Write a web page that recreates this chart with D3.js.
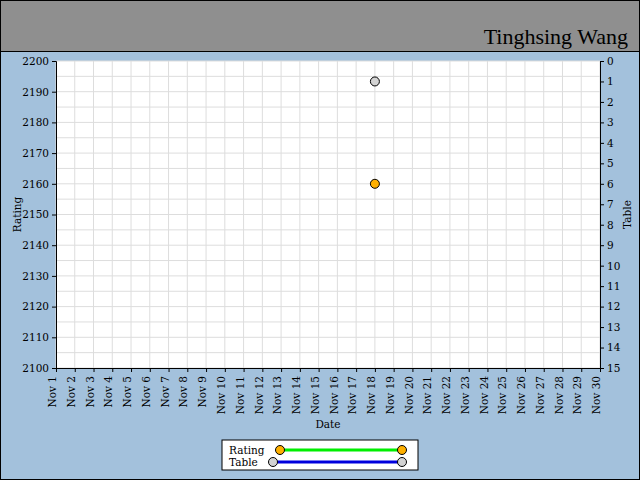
<!DOCTYPE html>
<html><head><meta charset="utf-8">
<script src="https://cdn.jsdelivr.net/npm/d3@7"></script>
<style>body{margin:0;background:#fff}text{font-family:"DejaVu Serif",serif;font-size:10.5px}</style>
</head><body>
<svg id="chart" width="640" height="480"></svg>
<script>
// Data
const days = d3.range(1, 31).map(d => 'Nov ' + d);
const ratingPoints = [{ day: 18, value: 2160 }];
const tablePoints = [{ day: 18, value: 1 }];
const ratingTicks = d3.range(2100, 2201, 10);
const tableTicks = d3.range(0, 16);

const svg = d3.select('#chart');
const margin = { top: 61, right: 40, bottom: 112, left: 56 };
const W = 640, H = 480;

svg.append('rect').attr('width', W).attr('height', H).attr('fill', '#a3c1dc');
svg.append('rect').attr('width', W).attr('height', 51).attr('fill', '#8f8f8f');
svg.append('line').attr('x1', 0).attr('x2', W).attr('y1', 51.5).attr('y2', 51.5).attr('stroke', '#000');
svg.append('text').attr('x', 628).attr('y', 44).attr('text-anchor', 'end')
    .style('font-family', '"Comic Sans MS", cursive').style('font-size', '22px').text('Tinghsing Wang');

const x = d3.scaleLinear().domain([1, 30]).range([margin.left, W - margin.right]);
const y = d3.scaleLinear().domain([2100, 2200]).range([H - margin.bottom, margin.top]);
const y2 = d3.scaleLinear().domain([0, 15]).range([margin.top, H - margin.bottom]);

svg.append('rect').attr('x', margin.left).attr('y', margin.top)
    .attr('width', x(30) - x(1)).attr('height', y(2100) - y(2200)).attr('fill', '#fff');

// Grid
svg.append('g').selectAll('line').data(d3.range(1, 31)).join('line')
    .attr('x1', d => x(d)).attr('x2', d => x(d)).attr('y1', y(2200)).attr('y2', y(2100))
    .attr('stroke', '#ddd');
svg.append('g').selectAll('line').data(d3.range(2100, 2201, 5)).join('line')
    .attr('x1', x(1)).attr('x2', x(30)).attr('y1', d => y(d)).attr('y2', d => y(d))
    .attr('stroke', '#ddd');

// Axes
const gx = svg.append('g').attr('transform', `translate(0,${y(2100)})`)
    .call(d3.axisBottom(x).tickValues(d3.range(1, 31)).tickFormat(d => days[d - 1]).tickSize(4));
gx.selectAll('text').attr('transform', 'rotate(-90)').attr('text-anchor', 'end')
    .attr('x', -8).attr('y', -4).attr('dy', '0.35em').attr('fill', '#000');
svg.append('g').attr('transform', `translate(${margin.left},0)`)
    .call(d3.axisLeft(y).tickValues(ratingTicks).tickFormat(d3.format('d')).tickSize(4))
    .selectAll('text').attr('fill', '#000');
svg.append('g').attr('transform', `translate(${W - margin.right},0)`)
    .call(d3.axisRight(y2).tickValues(tableTicks).tickSize(4))
    .selectAll('text').attr('fill', '#000');
svg.selectAll('.domain').attr('stroke', '#000');

svg.append('text').attr('x', (x(1) + x(30)) / 2).attr('y', 428).attr('text-anchor', 'middle').text('Date');
svg.append('text').attr('transform', `translate(21,${(y(2100) + y(2200)) / 2}) rotate(-90)`).attr('text-anchor', 'middle').text('Rating');
svg.append('text').attr('transform', `translate(631,${(y(2100) + y(2200)) / 2}) rotate(-90)`).attr('text-anchor', 'middle').text('Table');

// Points
svg.append('g').selectAll('circle').data(tablePoints).join('circle')
    .attr('cx', d => x(d.day)).attr('cy', d => y2(d.value)).attr('r', 4.5)
    .attr('fill', '#d3d3d3').attr('stroke', '#000');
svg.append('g').selectAll('circle').data(ratingPoints).join('circle')
    .attr('cx', d => x(d.day)).attr('cy', d => y(d.value)).attr('r', 4.5)
    .attr('fill', '#ffb000').attr('stroke', '#000');

// Legend
const lg = svg.append('g').attr('transform', 'translate(222,440)');
lg.append('rect').attr('width', 196).attr('height', 30).attr('fill', '#fff').attr('stroke', '#000');
lg.append('text').attr('x', 7).attr('y', 14).text('Rating');
lg.append('text').attr('x', 7).attr('y', 26).text('Table');
lg.append('line').attr('x1', 58).attr('x2', 180).attr('y1', 10).attr('y2', 10).attr('stroke', '#00ee00').attr('stroke-width', 3);
lg.append('line').attr('x1', 51).attr('x2', 180).attr('y1', 22).attr('y2', 22).attr('stroke', '#0000dd').attr('stroke-width', 3);
[[58, 10, '#ffb000'], [180, 10, '#ffb000'], [51, 22, '#d3d3d3'], [180, 22, '#d3d3d3']].forEach(([cx, cy, c]) =>
    lg.append('circle').attr('cx', cx).attr('cy', cy).attr('r', 4.5).attr('fill', c).attr('stroke', '#000'));

svg.append('rect').attr('x', 0.5).attr('y', 0.5).attr('width', W - 1).attr('height', H - 1)
    .attr('fill', 'none').attr('stroke', '#000');
</script>
</body></html>
